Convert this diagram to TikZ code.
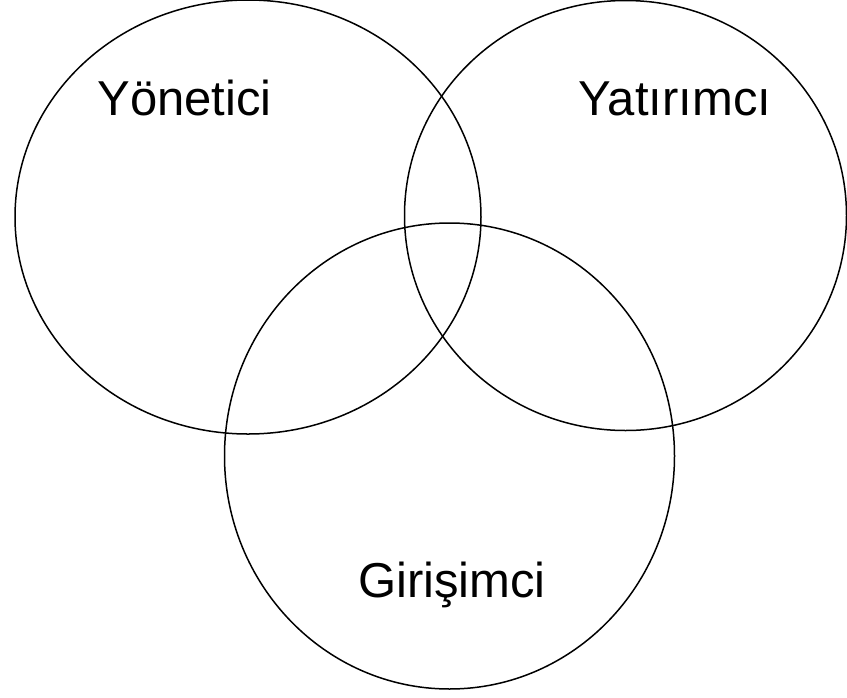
\documentclass[tikz,border=0pt]{standalone}
\usepackage{fontspec}
\setmainfont{Liberation Sans}
\begin{document}
\begin{tikzpicture}[x=1pt, y=-1pt, line width=1.5pt,
  lbl/.style={anchor=base, inner sep=0pt, font=\fontsize{49}{58}\selectfont}]
  \useasboundingbox (0,0) rectangle (847,697);
  % kümeler
  \draw (248,217) ellipse (233 and 217);
  \draw (625.5,215.5) ellipse (221 and 215);
  \draw (449.5,456) ellipse (225 and 233);
  % etiketler
  \node[lbl] (yon) at (184.5,115) {Yönetici};
  \node[lbl] (yat) at (675,115) {Yatırımcı};
  \node[lbl] (gir) at (452,597) {Girişimci};
\end{tikzpicture}
\end{document}
